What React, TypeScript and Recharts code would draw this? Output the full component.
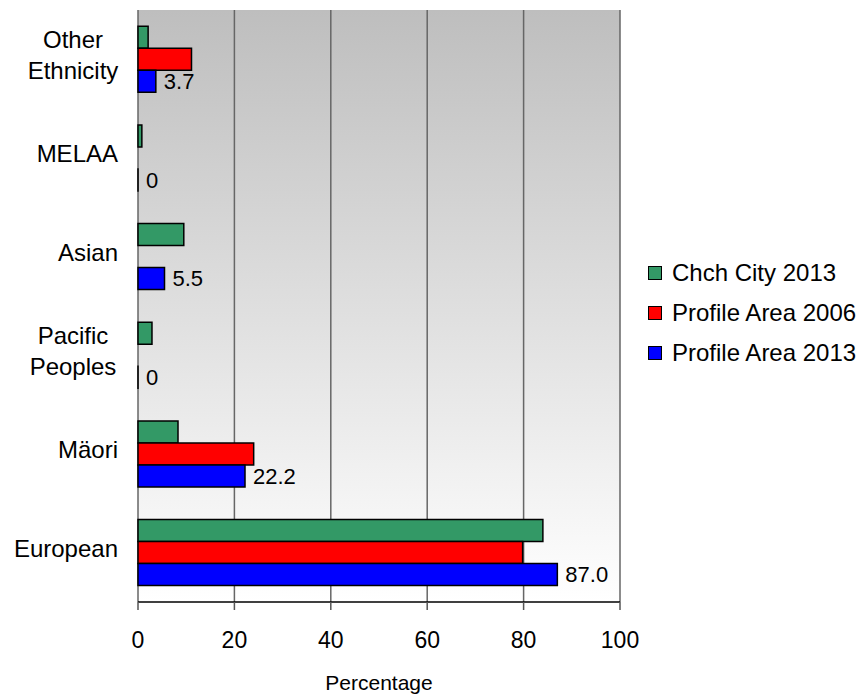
import React from 'react';
import { BarChart, Bar, XAxis, YAxis, CartesianGrid, Legend, LabelList } from 'recharts';

// ethnic groups, top to bottom
const categories = ['Other Ethnicity', 'MELAA', 'Asian', 'Pacific Peoples', 'Mäori', 'European'];

const chchCity2013 = [2.1, 0.8, 9.5, 2.9, 8.3, 84.0];
const profileArea2006 = [11.1, null, null, null, 24.0, 79.8];
const profileArea2013 = [3.7, 0, 5.5, 0, 22.2, 87.0];
const profileArea2013Labels = ['3.7', '0', '5.5', '0', '22.2', '87.0'];

const xTicks = [0, 20, 40, 60, 80, 100];
const edgeTicks = categories.map((_, i) => i).concat(categories.length);

const series = [
  { key: 'chch2013', name: 'Chch City 2013', color: '#339966' },
  { key: 'area2006', name: 'Profile Area 2006', color: '#FF0000' },
  { key: 'area2013', name: 'Profile Area 2013', color: '#0000FF' },
];

const data = categories.map((name, i) => ({
  name,
  chch2013: chchCity2013[i],
  area2006: profileArea2006[i],
  area2013: profileArea2013[i],
  label2013: profileArea2013Labels[i],
}));

const FONT = '"Liberation Sans", Arial, sans-serif';

const CategoryTick = (props: any) => {
  const { x, y, payload } = props;
  const words = String(payload.value).split(' ');
  if (words.length === 1) {
    return (
      <text x={x} y={y} dy={4} textAnchor="end" fontSize={24} fontFamily={FONT} fill="#000">
        {payload.value}
      </text>
    );
  }
  const cx = x - 45;
  return (
    <text x={cx} y={y} textAnchor="middle" fontSize={24} fontFamily={FONT} fill="#000">
      {words.map((w, i) => (
        <tspan key={w} x={cx} dy={i === 0 ? -11.5 : 31}>
          {w}
        </tspan>
      ))}
    </text>
  );
};

const LegendContent = () => (
  <div style={{ fontFamily: FONT, fontSize: 24, color: '#000' }}>
    {series.map(s => (
      <div key={s.key} style={{ display: 'flex', alignItems: 'center', height: 40 }}>
        <span
          style={{
            display: 'inline-block',
            width: 12,
            height: 12,
            border: '1.5px solid #000',
            background: s.color,
            marginRight: 10,
          }}
        />
        <span>{s.name}</span>
      </div>
    ))}
  </div>
);

// keep zero-valued bars in the layout so their "0" labels still show
const zeroSafe = (value: any) => (value === 0 ? 0.001 : 0);

export default function App() {
  return (
    <div style={{ position: 'absolute', left: 0, top: 0, width: 864, height: 697, background: '#fff' }}>
      <BarChart
        width={864}
        height={697}
        data={data}
        layout="vertical"
        margin={{ top: 10, right: 28, bottom: 0, left: 0 }}
        barCategoryGap="16.5%"
        barGap={0}
        style={{ fontFamily: FONT }}
      >
        <defs>
          <linearGradient id="plotBg" x1="0" y1="0" x2="0" y2="1">
            <stop offset="0%" stopColor="#bebebe" />
            <stop offset="100%" stopColor="#ffffff" />
          </linearGradient>
        </defs>
        <CartesianGrid
          horizontal={false}
          fill="url(#plotBg)"
          fillOpacity={1}
          stroke="#666"
          strokeWidth={1.5}
        />
        <XAxis
          type="number"
          domain={[0, 100]}
          ticks={xTicks}
          height={95}
          axisLine={{ stroke: '#000', strokeWidth: 1.5 }}
          tickLine={{ stroke: '#555', strokeWidth: 1.5 }}
          tickSize={8}
          tickMargin={22}
          tick={{ fontSize: 23, fill: '#000', fontFamily: FONT }}
          label={{ value: 'Percentage', position: 'insideBottom', offset: 7, fontSize: 21, fill: '#000', fontFamily: FONT }}
        />
        <XAxis
          xAxisId="top"
          orientation="top"
          type="number"
          domain={[0, 100]}
          height={0}
          tick={false}
          tickLine={false}
          axisLine={{ stroke: '#999', strokeWidth: 1.5 }}
        />
        <YAxis
          yAxisId="edge"
          type="number"
          domain={[0, categories.length]}
          ticks={edgeTicks}
          width={0}
          tick={false}
          tickSize={8}
          tickLine={{ stroke: '#000', strokeWidth: 1.5 }}
          axisLine={{ stroke: '#000', strokeWidth: 1.5 }}
        />
        <YAxis
          dataKey="name"
          type="category"
          width={138}
          interval={0}
          tickLine={false}
          axisLine={false}
          tickSize={0}
          tickMargin={20}
          tick={<CategoryTick />}
        />
        <Legend
          layout="vertical"
          align="right"
          verticalAlign="middle"
          content={<LegendContent />}
          wrapperStyle={{ width: 216, left: 648, top: 253 }}
        />
        {series.map(s => (
          <Bar
            key={s.key}
            dataKey={s.key}
            name={s.name}
            fill={s.color}
            stroke="#000"
            strokeWidth={1.5}
            minPointSize={s.key === 'area2013' ? zeroSafe : 0}
            isAnimationActive={false}
          >
            {s.key === 'area2013' && (
              <LabelList
                dataKey="label2013"
                position="right"
                offset={8}
                fontSize={22}
                fill="#000"
                fontFamily={FONT}
              />
            )}
          </Bar>
        ))}
      </BarChart>
    </div>
  );
}
